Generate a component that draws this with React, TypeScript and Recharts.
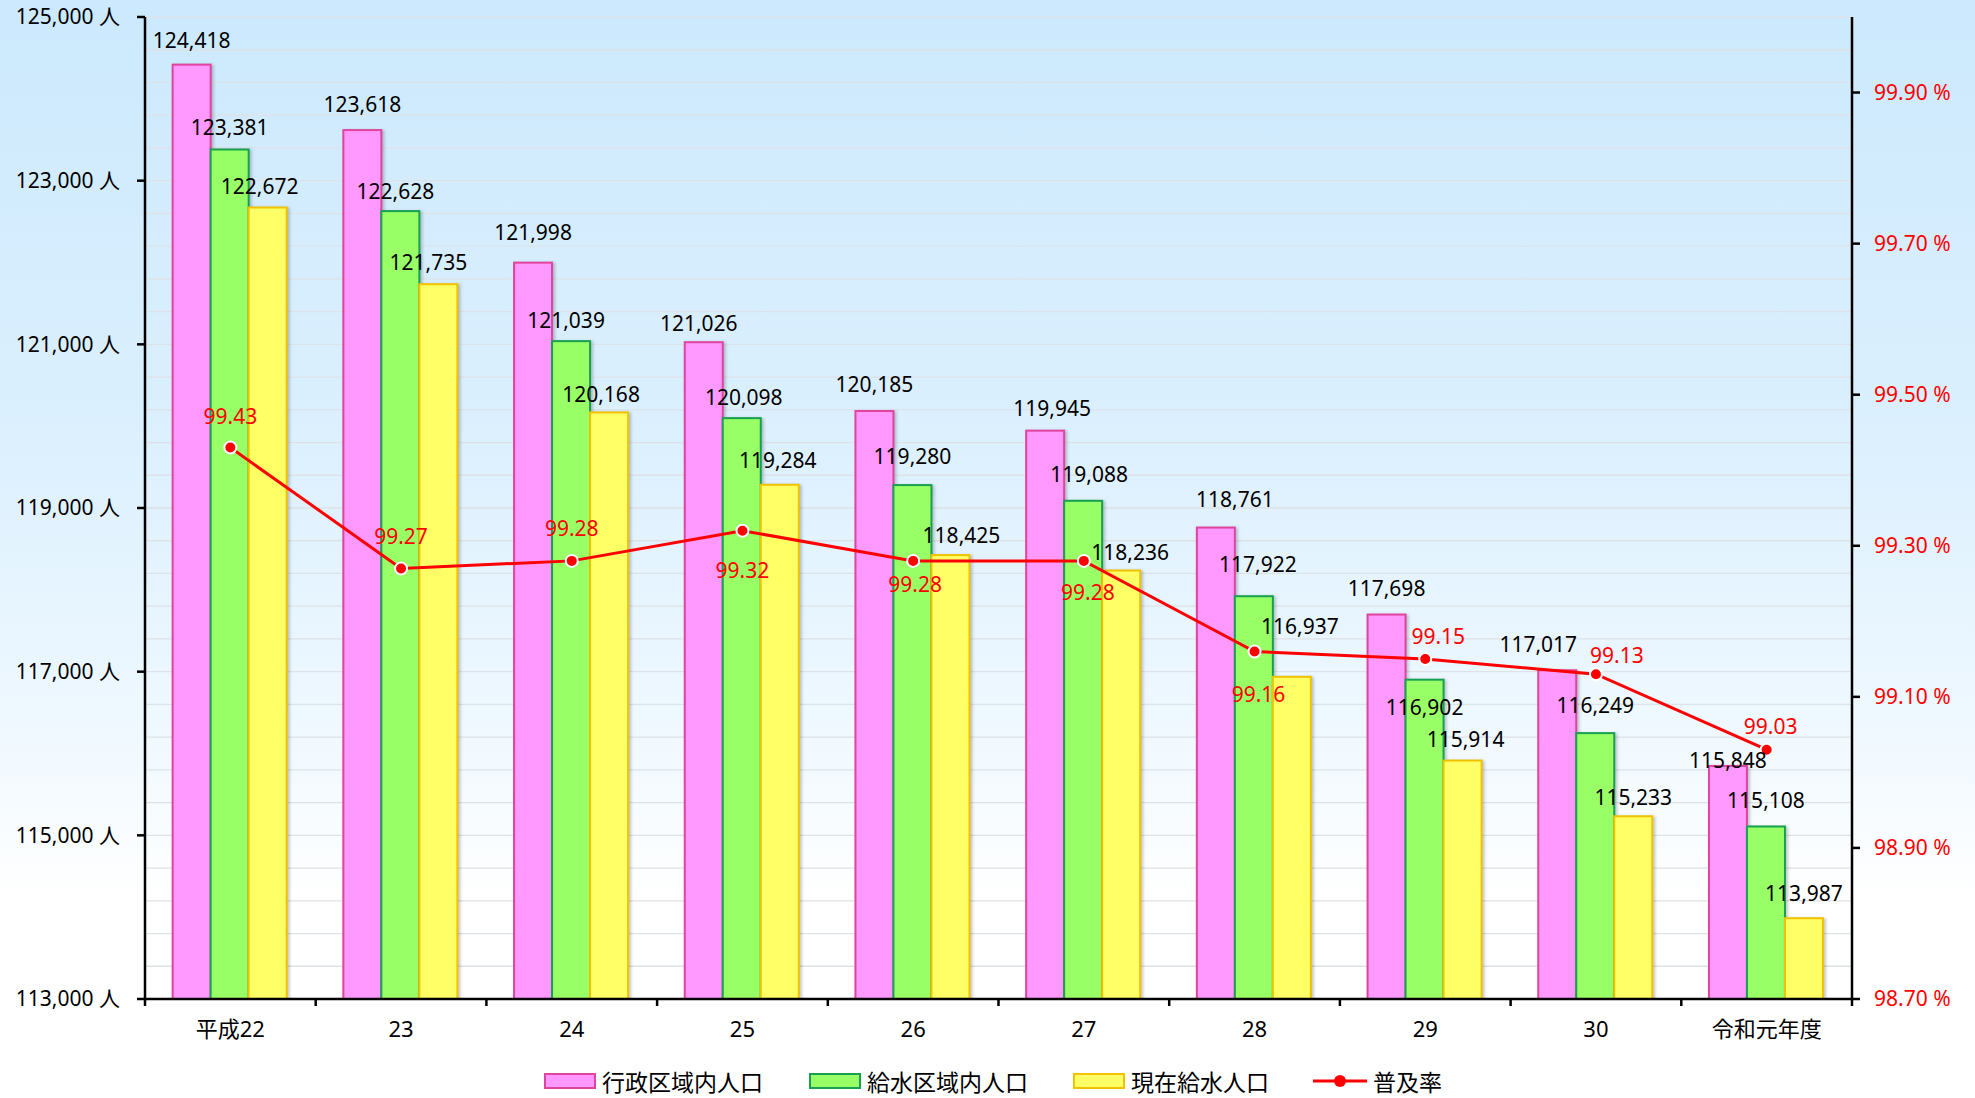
import React from 'react';
import { ComposedChart, Bar, Line, XAxis, YAxis, CartesianGrid, LabelList } from 'recharts';

// ---- data ----
const categories = ['平成22', '23', '24', '25', '26', '27', '28', '29', '30', '令和元年度'];
const adminPop = [124418, 123618, 121998, 121026, 120185, 119945, 118761, 117698, 117017, 115848];
const servicePop = [123381, 122628, 121039, 120098, 119280, 119088, 117922, 116902, 116249, 115108];
const servedPop = [122672, 121735, 120168, 119284, 118425, 118236, 116937, 115914, 115233, 113987];
const rate = [99.43, 99.27, 99.28, 99.32, 99.28, 99.28, 99.16, 99.15, 99.13, 99.03];
const leftTicks = [113000, 115000, 117000, 119000, 121000, 123000, 125000];
const rightTicks = [98.7, 98.9, 99.1, 99.3, 99.5, 99.7, 99.9];
const seriesNames = ['行政区域内人口', '給水区域内人口', '現在給水人口', '普及率'];

// ---- layout / style ----
const W = 1975;
const H = 1098;
const LEFT_W = 145;
const RIGHT_W = 123;
const TOP = 17;
const PLOT_BOTTOM = 999;
const X_AXIS_H = 60;
const BAND = (W - LEFT_W - RIGHT_W) / categories.length;
const FONT = "'Noto Sans', 'Noto Sans CJK JP', sans-serif";
const CJK = "'Noto Sans CJK JP', 'Noto Sans', sans-serif";

const gridValues: number[] = [];
for (let v = 113000; v <= 125000; v += 400) gridValues.push(v);

const colors = {
  admin: { fill: '#ff99ff', stroke: '#e0449e' },
  service: { fill: '#99ff66', stroke: '#17a050' },
  served: { fill: '#ffff66', stroke: '#f2c200' },
  rate: '#ff0000',
};

// label placement (as in the original hand-placed labels): lift of label centre above bar top, and x shift
const barLabelLift: Record<string, number[]> = {
  admin: [24, 25, 30, 19, 26, 22, 28, 26, 26, 5],
  service: [22, 19, 20, 20, 28, 26, 32, -28, 27, 26],
  served: [21, 22, 18, 24, 19, 18, 50, 21, 19, 25],
};
const barLabelDx: Record<string, number[]> = {
  admin: [0, 0, 0, -5, 0, 7, 19, 0, -19, 0],
  service: [0, -5, -5, 2, 0, 6, 4, 0, 0, 0],
  served: [-8, -10, -8, -2, 11, 9, 8, 3, 0, 0],
};
const rateLabelDx = [0, 0, 0, 0, 2, 4, 4, 13, 21, 4];
const rateLabelDy = [-31, -32, -32, 40, 24, 32, 43, -22, -19, -23];

const data = categories.map((c, i) => ({
  name: c,
  admin: adminPop[i],
  service: servicePop[i],
  served: servedPop[i],
  rate: rate[i],
}));

const fmt = (v: number) => v.toLocaleString('en-US');

const makeBarLabel = (key: string) => (props: any) => {
  const { x, y, width, value, index } = props;
  const lift = barLabelLift[key][index] ?? 21;
  const dx = barLabelDx[key][index] ?? 0;
  return (
    <text
      x={Number(x) + Number(width) / 2 + dx}
      y={Number(y) - lift}
      dy="0.35em"
      textAnchor="middle"
      fontFamily={FONT}
      fontSize={21}
      fill="#000"
    >
      {fmt(value)}
    </text>
  );
};

const RateLabel = (props: any) => {
  const { x, y, value, index } = props;
  return (
    <text
      x={Number(x) + rateLabelDx[index]}
      y={Number(y) + rateLabelDy[index]}
      dy="0.35em"
      textAnchor="middle"
      fontFamily={FONT}
      fontSize={21}
      fill={colors.rate}
    >
      {Number(value).toFixed(2)}
    </text>
  );
};

const BarShape = (props: any) => {
  const { x, y, width, height, fill, stroke } = props;
  if (!height || height <= 0) return null;
  return (
    <rect
      x={x}
      y={y}
      width={width}
      height={height}
      fill={fill}
      stroke={stroke}
      strokeWidth={2}
      style={{ filter: 'drop-shadow(2px 1px 1.5px rgba(0,0,0,0.22))' }}
    />
  );
};

const XTick = (props: any) => {
  const { x, y, payload, index } = props;
  const axisY = PLOT_BOTTOM;
  const left = x - BAND / 2;
  const right = x + BAND / 2;
  return (
    <g>
      <line x1={left} y1={axisY} x2={left} y2={axisY + 7} stroke="#000" strokeWidth={2.5} />
      {index === categories.length - 1 && (
        <line x1={right} y1={axisY} x2={right} y2={axisY + 7} stroke="#000" strokeWidth={2.5} />
      )}
      <text x={x} y={y} dy="0.75em" textAnchor="middle" fontFamily={FONT} fontSize={22} fill="#000">
        {payload.value}
      </text>
    </g>
  );
};

const LeftTick = (props: any) => {
  const { x, y, payload } = props;
  return (
    <text x={x} y={y} dy="0.35em" textAnchor="end" fontFamily={FONT} fontSize={21} fill="#000">
      {fmt(payload.value)} 人
    </text>
  );
};

const RightTick = (props: any) => {
  const { x, y, payload } = props;
  return (
    <text x={x} y={y} dy="0.35em" textAnchor="start" fontFamily={FONT} fontSize={21} fill={colors.rate}>
      {Number(payload.value).toFixed(2)} %
    </text>
  );
};

const LegendBox = ({ fill, stroke }: { fill: string; stroke: string }) => (
  <span
    style={{
      display: 'inline-block',
      width: 48,
      height: 12,
      background: fill,
      border: `2px solid ${stroke}`,
    }}
  />
);

const legendLefts = [544, 809, 1073, 1313];
const legendItemStyle: React.CSSProperties = {
  position: 'absolute',
  top: 1069,
  height: 24,
  lineHeight: '24px',
  display: 'flex',
  alignItems: 'center',
  gap: 6,
  whiteSpace: 'nowrap',
};

const Legend = () => (
  <div style={{ fontFamily: CJK, fontSize: 23, color: '#000' }}>
    {[colors.admin, colors.service, colors.served].map((c, i) => (
      <div key={i} style={{ ...legendItemStyle, left: legendLefts[i] }}>
        <LegendBox fill={c.fill} stroke={c.stroke} />
        <span>{seriesNames[i]}</span>
      </div>
    ))}
    <div style={{ ...legendItemStyle, left: legendLefts[3] }}>
      <svg width={54} height={16}>
        <line x1={0} y1={8} x2={54} y2={8} stroke={colors.rate} strokeWidth={3} />
        <circle cx={27} cy={8} r={6} fill={colors.rate} />
      </svg>
      <span>{seriesNames[3]}</span>
    </div>
  </div>
);

export default function App() {
  return (
    <div
      style={{
        position: 'absolute',
        left: 0,
        top: 0,
        width: W,
        height: H,
        overflow: 'hidden',
        background: 'linear-gradient(to bottom, #cce9fd 0%, #dcf0fe 40%, #eef8ff 65%, #ffffff 82%, #ffffff 100%)',
      }}
    >
      <ComposedChart
        width={W}
        height={H}
        data={data}
        margin={{ top: TOP, right: 0, left: 0, bottom: H - PLOT_BOTTOM - X_AXIS_H }}
        barCategoryGap="16.2%"
        barGap={0}
      >
        <CartesianGrid
          yAxisId="left"
          vertical={false}
          horizontalValues={gridValues}
          stroke="#dde2e6"
          strokeWidth={1.3}
        />
        <XAxis
          dataKey="name"
          height={X_AXIS_H}
          tickLine={false}
          tickSize={7}
          tickMargin={14}
          axisLine={{ stroke: '#000', strokeWidth: 2.5 }}
          tick={<XTick />}
          interval={0}
        />
        <YAxis
          yAxisId="left"
          orientation="left"
          width={LEFT_W}
          domain={[113000, 125000]}
          ticks={leftTicks}
          allowDataOverflow
          axisLine={{ stroke: '#000', strokeWidth: 2.5 }}
          tickLine={{ stroke: '#000', strokeWidth: 2.5 }}
          tickSize={8}
          tickMargin={17}
          tick={<LeftTick />}
        />
        <YAxis
          yAxisId="right"
          orientation="right"
          width={RIGHT_W}
          domain={[98.7, 100.0]}
          ticks={rightTicks}
          allowDataOverflow
          axisLine={{ stroke: '#000', strokeWidth: 2.5 }}
          tickLine={{ stroke: '#000', strokeWidth: 2.5 }}
          tickSize={8}
          tickMargin={14}
          tick={<RightTick />}
        />
        <Bar
          yAxisId="left"
          dataKey="admin"
          name={seriesNames[0]}
          fill={colors.admin.fill}
          stroke={colors.admin.stroke}
          shape={BarShape}
          isAnimationActive={false}
        >
          <LabelList dataKey="admin" content={makeBarLabel('admin')} />
        </Bar>
        <Bar
          yAxisId="left"
          dataKey="service"
          name={seriesNames[1]}
          fill={colors.service.fill}
          stroke={colors.service.stroke}
          shape={BarShape}
          isAnimationActive={false}
        >
          <LabelList dataKey="service" content={makeBarLabel('service')} />
        </Bar>
        <Bar
          yAxisId="left"
          dataKey="served"
          name={seriesNames[2]}
          fill={colors.served.fill}
          stroke={colors.served.stroke}
          shape={BarShape}
          isAnimationActive={false}
        >
          <LabelList dataKey="served" content={makeBarLabel('served')} />
        </Bar>
        <Line
          yAxisId="right"
          dataKey="rate"
          name={seriesNames[3]}
          stroke={colors.rate}
          strokeWidth={3}
          dot={{ r: 6, fill: colors.rate, stroke: '#fff', strokeWidth: 2 }}
          activeDot={false}
          isAnimationActive={false}
        >
          <LabelList dataKey="rate" content={RateLabel} />
        </Line>
      </ComposedChart>
      <Legend />
    </div>
  );
}
